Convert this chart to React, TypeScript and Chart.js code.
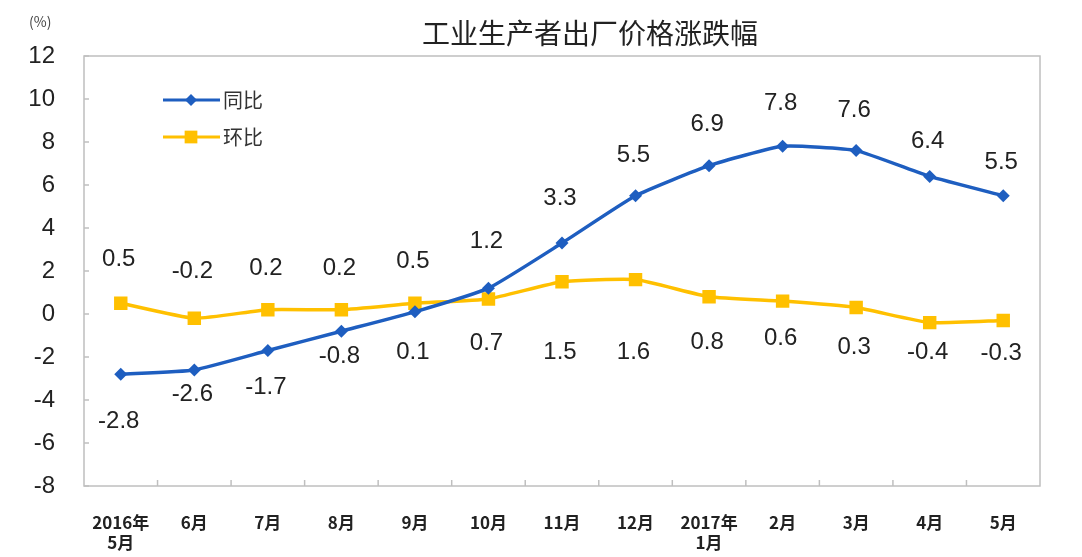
import React, { useEffect, useRef } from "react";
import { Chart, registerables } from "chart.js";

Chart.register(...registerables);

const categories: (string | string[])[] = [
  ["2016年", "5月"], "6月", "7月", "8月", "9月", "10月", "11月", "12月",
  ["2017年", "1月"], "2月", "3月", "4月", "5月",
];
const yoyValues = [-2.8, -2.6, -1.7, -0.8, 0.1, 1.2, 3.3, 5.5, 6.9, 7.8, 7.6, 6.4, 5.5];
const momValues = [0.5, -0.2, 0.2, 0.2, 0.5, 0.7, 1.5, 1.6, 0.8, 0.6, 0.3, -0.4, -0.3];
const yTicks = [12, 10, 8, 6, 4, 2, 0, -2, -4, -6, -8];
const seriesNames = ["同比", "环比"];
const titleText = "工业生产者出厂价格涨跌幅";
const unitText = "(%)";

// label placement (style, not data): vertical offset of each value label from its point
const yoyLabelDy = [47, 24, 37, 25, 41, -47, -45, -40, -41, -43, -40, -35, -33];
const momLabelDy = [-44, -47, -41, -41, -42, 44, 71, 73, 46, 37, 40, 30, 33];

const BLUE = "#1E5EC0";
const YELLOW = "#FFC000";
const AXIS = "#BFBFBF";
const TEXT = "#222222";
const NUM_FONT = '"Liberation Sans", Arial, sans-serif';
const CJK_FONT = '"Noto Sans CJK SC", "Noto Sans", sans-serif';

const decorPlugin = {
  id: "decor",
  afterDatasetsDraw(chart: any) {
    const { ctx, chartArea, scales } = chart;
    const { left, right, top, bottom } = chartArea;
    ctx.save();
    // frame
    ctx.strokeStyle = AXIS;
    ctx.lineWidth = 1.5;
    ctx.strokeRect(left, top, right - left, bottom - top);
    // y ticks (inside)
    const ys = scales.y;
    yTicks.forEach((v) => {
      const py = ys.getPixelForValue(v);
      ctx.beginPath();
      ctx.moveTo(left, py);
      ctx.lineTo(left + 5, py);
      ctx.stroke();
    });
    // x ticks at category boundaries (inside)
    const xs = scales.x;
    for (let i = 1; i < categories.length; i++) {
      const px = (xs.getPixelForValue(i - 1) + xs.getPixelForValue(i)) / 2;
      ctx.beginPath();
      ctx.moveTo(px, bottom);
      ctx.lineTo(px, bottom - 6);
      ctx.stroke();
    }
    // value labels
    ctx.fillStyle = TEXT;
    ctx.font = `24px ${NUM_FONT}`;
    ctx.textAlign = "center";
    ctx.textBaseline = "middle";
    const drawLabels = (dsIndex: number, vals: number[], dys: number[]) => {
      const meta = chart.getDatasetMeta(dsIndex);
      meta.data.forEach((pt: any, i: number) => {
        ctx.fillText(vals[i].toFixed(1), pt.x - 2, pt.y + dys[i]);
      });
    };
    drawLabels(0, yoyValues, yoyLabelDy);
    drawLabels(1, momValues, momLabelDy);
    // title
    ctx.fillStyle = "#222222";
    ctx.font = `28px ${CJK_FONT}`;
    ctx.fillText(titleText, 590, 33);
    // unit
    ctx.font = `14px ${CJK_FONT}`;
    ctx.fillStyle = "#444444";
    ctx.textAlign = "left";
    ctx.fillText(unitText, 29, 22);
    // legend
    const legendItems = [
      { name: seriesNames[0], color: BLUE, y: 100, style: "rectRot", r: 6 },
      { name: seriesNames[1], color: YELLOW, y: 137, style: "rect", r: 9 },
    ];
    legendItems.forEach((it) => {
      ctx.strokeStyle = it.color;
      ctx.lineWidth = 3;
      ctx.beginPath();
      ctx.moveTo(163, it.y);
      ctx.lineTo(220, it.y);
      ctx.stroke();
      ctx.fillStyle = it.color;
      if (it.style === "rectRot") {
        ctx.beginPath();
        ctx.moveTo(191, it.y - it.r);
        ctx.lineTo(191 + it.r, it.y);
        ctx.lineTo(191, it.y + it.r);
        ctx.lineTo(191 - it.r, it.y);
        ctx.closePath();
        ctx.fill();
      } else {
        const s = it.r * Math.SQRT1_2;
        ctx.fillRect(191 - s, it.y - s, 2 * s, 2 * s);
      }
      ctx.fillStyle = "#333333";
      ctx.font = `20px ${CJK_FONT}`;
      ctx.textAlign = "left";
      ctx.fillText(it.name, 223, it.y);
    });
    ctx.restore();
  },
};

export default function App() {
  const ref = useRef<HTMLCanvasElement | null>(null);
  useEffect(() => {
    document.body.style.margin = "0";
    const canvas = ref.current!;
    const chart = new Chart(canvas, {
      type: "line",
      data: {
        labels: categories,
        datasets: [
          {
            label: seriesNames[0],
            data: yoyValues,
            borderColor: BLUE,
            backgroundColor: BLUE,
            borderWidth: 3.5,
            pointStyle: "rectRot",
            pointRadius: 6.5,
            pointBorderWidth: 0,
            tension: 0.15,
          },
          {
            label: seriesNames[1],
            data: momValues,
            borderColor: YELLOW,
            backgroundColor: YELLOW,
            borderWidth: 3.5,
            pointStyle: "rect",
            pointRadius: 9.5,
            pointBorderWidth: 0,
            tension: 0.15,
          },
        ],
      },
      options: {
        responsive: false,
        animation: false,
        layout: { padding: { top: 56, right: 42, left: 0, bottom: 0 } },
        plugins: {
          legend: { display: false },
          title: { display: false },
          tooltip: { enabled: false },
        },
        scales: {
          x: {
            offset: true,
            grid: { display: false, drawTicks: false },
            border: { display: false },
            ticks: {
              color: TEXT,
              font: { family: CJK_FONT, size: 17, weight: "bold" },
              padding: 26,
              maxRotation: 0,
              autoSkip: false,
            },
            afterFit(scale: any) {
              scale.height = 71;
            },
          },
          y: {
            min: -8,
            max: 12,
            grid: { display: false, drawTicks: false },
            border: { display: false },
            ticks: {
              stepSize: 2,
              color: TEXT,
              font: { family: NUM_FONT, size: 24 },
              padding: 29,
            },
            afterFit(scale: any) {
              scale.width = 84;
            },
          },
        },
      },
      plugins: [decorPlugin],
    });
    return () => chart.destroy();
  }, []);
  return <canvas ref={ref} width={1082} height={557} style={{ display: "block" }} />;
}
